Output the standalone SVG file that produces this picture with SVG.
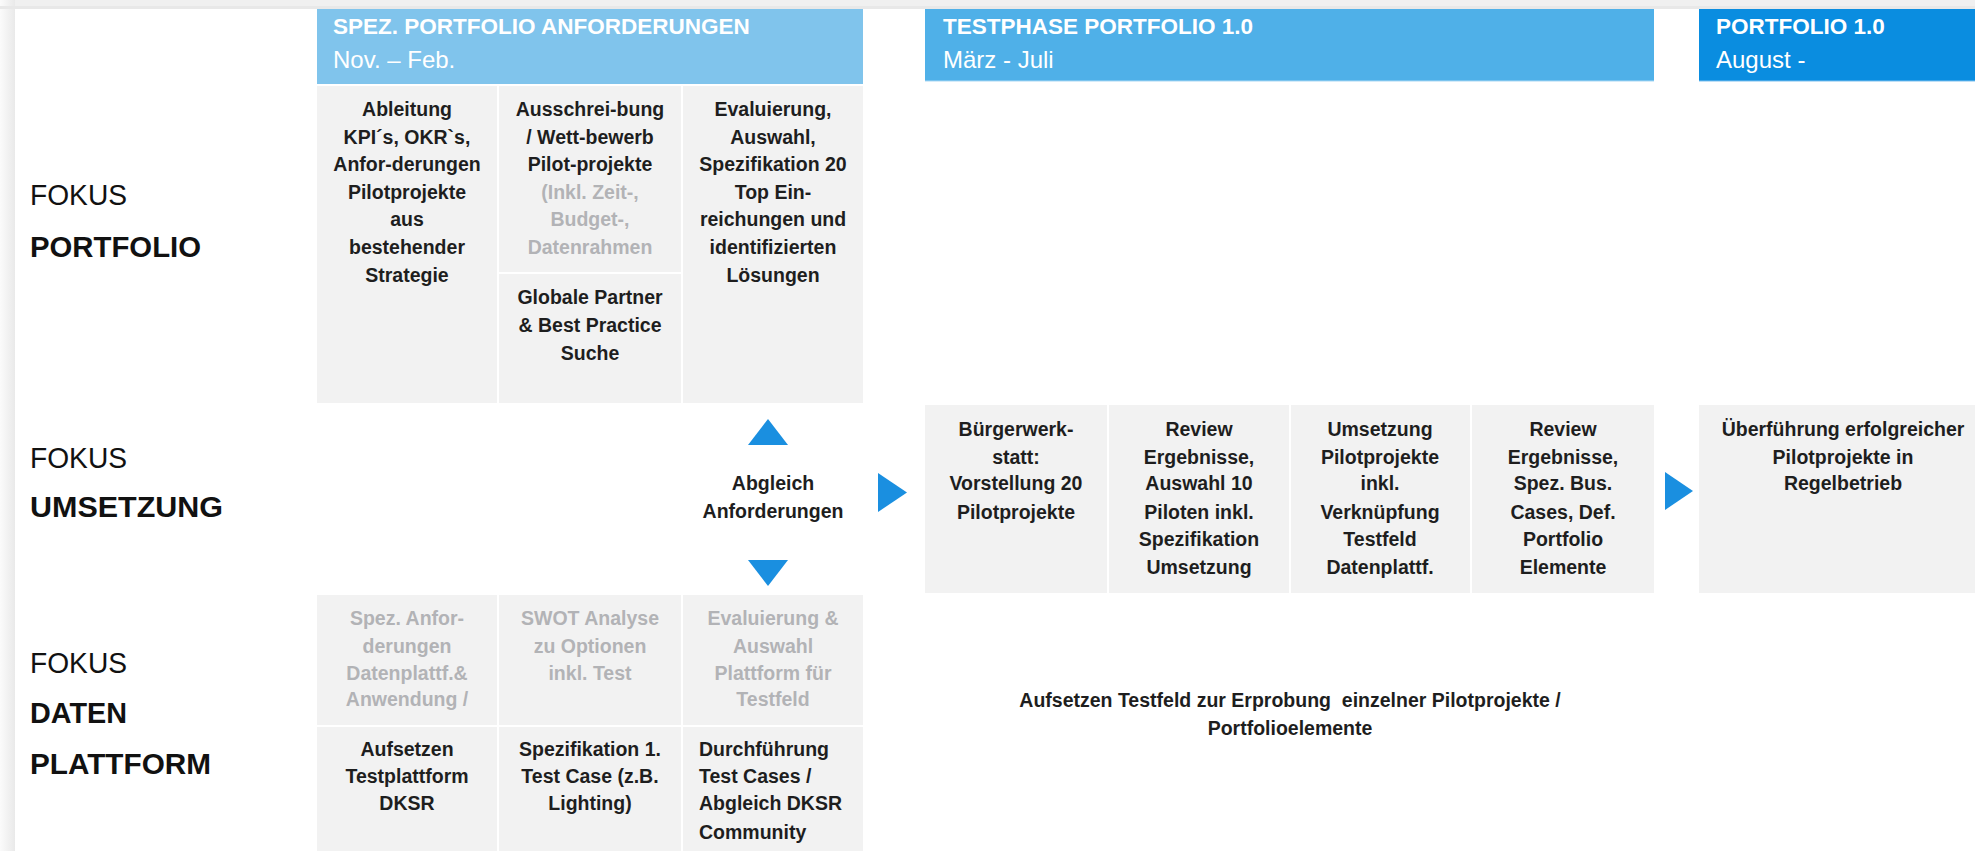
<svg xmlns="http://www.w3.org/2000/svg" width="1975" height="851" viewBox="0 0 1975 851">
<defs>
<linearGradient id="lshadow" x1="0" y1="0" x2="1" y2="0">
<stop offset="0" stop-color="#fbfbfb"/>
<stop offset="1" stop-color="#e9e9e9"/>
</linearGradient>
<style>
.cell{fill:#f2f2f2}
.t{font-family:"Liberation Sans",Arial,sans-serif;font-size:19.5px;font-weight:700;fill:#1e1e1e;text-anchor:middle}
.g{fill:#b2b3b6}
.l{text-anchor:start}
.lab{font-family:"Liberation Sans",Arial,sans-serif;font-size:29px;fill:#111}
.b{font-weight:700}
.ht{font-family:"Liberation Sans",Arial,sans-serif;font-size:22.5px;font-weight:700;fill:#fff}
.hs{font-family:"Liberation Sans",Arial,sans-serif;font-size:24px;fill:#fff}
.arr{fill:#1a8fe0}
</style>
</defs>
<rect x="0" y="0" width="1975" height="851" fill="#f0f0f0"/>
<rect x="0" y="0" width="15" height="851" fill="url(#lshadow)"/>
<rect x="0" y="6" width="1975" height="3" fill="#e8e8e8"/>
<rect x="15" y="9" width="1960" height="842" fill="#ffffff"/>

<g id="labels">
<text class="lab" x="30" y="205" textLength="97" lengthAdjust="spacingAndGlyphs">FOKUS</text>
<text class="lab b" x="30" y="257" textLength="171" lengthAdjust="spacingAndGlyphs">PORTFOLIO</text>
<text class="lab" x="30" y="468" textLength="97" lengthAdjust="spacingAndGlyphs">FOKUS</text>
<text class="lab b" x="30" y="517" textLength="193" lengthAdjust="spacingAndGlyphs">UMSETZUNG</text>
<text class="lab" x="30" y="673" textLength="97" lengthAdjust="spacingAndGlyphs">FOKUS</text>
<text class="lab b" x="30" y="723" textLength="97" lengthAdjust="spacingAndGlyphs">DATEN</text>
<text class="lab b" x="30" y="774" textLength="181" lengthAdjust="spacingAndGlyphs">PLATTFORM</text>
</g>

<g id="header1">
<rect x="317" y="9" width="546" height="75" fill="#80c4ec"/>
<text class="ht" x="333" y="34">SPEZ. PORTFOLIO ANFORDERUNGEN</text>
<text class="hs" x="333" y="68">Nov. – Feb.</text>
</g>
<g id="header2">
<rect x="925" y="9" width="729" height="72" fill="#4fb0e8"/>
<rect x="925" y="80.5" width="729" height="1" fill="#a9d8f4"/>
<text class="ht" x="943" y="34">TESTPHASE PORTFOLIO 1.0</text>
<text class="hs" x="943" y="68">März - Juli</text>
</g>
<g id="header3">
<rect x="1699" y="9" width="276" height="72" fill="#0a8de0"/>
<rect x="1699" y="80.5" width="276" height="1" fill="#7cc0ee"/>
<text class="ht" x="1716" y="34">PORTFOLIO 1.0</text>
<text class="hs" x="1716" y="68">August -</text>
</g>

<g id="p1">
<rect class="cell" x="317" y="86" width="180" height="317"/>
<text class="t" x="407" y="116">Ableitung</text>
<text class="t" x="407" y="144">KPI´s, OKR`s,</text>
<text class="t" x="407" y="171">Anfor-derungen</text>
<text class="t" x="407" y="199">Pilotprojekte</text>
<text class="t" x="407" y="226">aus</text>
<text class="t" x="407" y="254">bestehender</text>
<text class="t" x="407" y="282">Strategie</text>
</g>
<g id="p2">
<rect class="cell" x="499" y="86" width="182" height="186"/>
<text class="t" x="590" y="116">Ausschrei-bung</text>
<text class="t" x="590" y="144">/ Wett-bewerb</text>
<text class="t" x="590" y="171">Pilot-projekte</text>
<text class="t g" x="590" y="199">(Inkl. Zeit-,</text>
<text class="t g" x="590" y="226">Budget-,</text>
<text class="t g" x="590" y="254">Datenrahmen</text>
</g>
<g id="p2b">
<rect class="cell" x="499" y="274" width="182" height="129"/>
<text class="t" x="590" y="304">Globale Partner</text>
<text class="t" x="590" y="332">&amp; Best Practice</text>
<text class="t" x="590" y="360">Suche</text>
</g>
<g id="p3">
<rect class="cell" x="683" y="86" width="180" height="317"/>
<text class="t" x="773" y="116">Evaluierung,</text>
<text class="t" x="773" y="144">Auswahl,</text>
<text class="t" x="773" y="171">Spezifikation 20</text>
<text class="t" x="773" y="199">Top Ein-</text>
<text class="t" x="773" y="226">reichungen und</text>
<text class="t" x="773" y="254">identifizierten</text>
<text class="t" x="773" y="282">Lösungen</text>
</g>

<g id="abgleich">
<text class="t" x="773" y="490">Abgleich</text>
<text class="t" x="773" y="518">Anforderungen</text>
</g>

<g id="u1">
<rect class="cell" x="925" y="405" width="182" height="188"/>
<text class="t" x="1016" y="436">Bürgerwerk-</text>
<text class="t" x="1016" y="464">statt:</text>
<text class="t" x="1016" y="490">Vorstellung 20</text>
<text class="t" x="1016" y="519">Pilotprojekte</text>
</g>
<g id="u2">
<rect class="cell" x="1109" y="405" width="180" height="188"/>
<text class="t" x="1199" y="436">Review</text>
<text class="t" x="1199" y="464">Ergebnisse,</text>
<text class="t" x="1199" y="490">Auswahl 10</text>
<text class="t" x="1199" y="519">Piloten inkl.</text>
<text class="t" x="1199" y="546">Spezifikation</text>
<text class="t" x="1199" y="574">Umsetzung</text>
</g>
<g id="u3">
<rect class="cell" x="1291" y="405" width="179" height="188"/>
<text class="t" x="1380" y="436">Umsetzung</text>
<text class="t" x="1380" y="464">Pilotprojekte</text>
<text class="t" x="1380" y="490">inkl.</text>
<text class="t" x="1380" y="519">Verknüpfung</text>
<text class="t" x="1380" y="546">Testfeld</text>
<text class="t" x="1380" y="574">Datenplattf.</text>
</g>
<g id="u4">
<rect class="cell" x="1472" y="405" width="182" height="188"/>
<text class="t" x="1563" y="436">Review</text>
<text class="t" x="1563" y="464">Ergebnisse,</text>
<text class="t" x="1563" y="490">Spez. Bus.</text>
<text class="t" x="1563" y="519">Cases, Def.</text>
<text class="t" x="1563" y="546">Portfolio</text>
<text class="t" x="1563" y="574">Elemente</text>
</g>
<g id="u5">
<rect class="cell" x="1699" y="405" width="276" height="188"/>
<text class="t" x="1843" y="436">Überführung erfolgreicher</text>
<text class="t" x="1843" y="464">Pilotprojekte in</text>
<text class="t" x="1843" y="490">Regelbetrieb</text>
</g>

<g id="d1">
<rect class="cell" x="317" y="595" width="180" height="130"/>
<text class="t g" x="407" y="625">Spez. Anfor-</text>
<text class="t g" x="407" y="653">derungen</text>
<text class="t g" x="407" y="680">Datenplattf.&amp;</text>
<text class="t g" x="407" y="706">Anwendung /</text>
</g>
<g id="d2">
<rect class="cell" x="499" y="595" width="182" height="130"/>
<text class="t g" x="590" y="625">SWOT Analyse</text>
<text class="t g" x="590" y="653">zu Optionen</text>
<text class="t g" x="590" y="680">inkl. Test</text>
</g>
<g id="d3">
<rect class="cell" x="683" y="595" width="180" height="130"/>
<text class="t g" x="773" y="625">Evaluierung &amp;</text>
<text class="t g" x="773" y="653">Auswahl</text>
<text class="t g" x="773" y="680">Plattform für</text>
<text class="t g" x="773" y="706">Testfeld</text>
</g>
<g id="d4">
<rect class="cell" x="317" y="727" width="180" height="124"/>
<text class="t" x="407" y="756">Aufsetzen</text>
<text class="t" x="407" y="783">Testplattform</text>
<text class="t" x="407" y="810">DKSR</text>
</g>
<g id="d5">
<rect class="cell" x="499" y="727" width="182" height="124"/>
<text class="t" x="590" y="756">Spezifikation 1.</text>
<text class="t" x="590" y="783">Test Case (z.B.</text>
<text class="t" x="590" y="810">Lighting)</text>
</g>
<g id="d6">
<rect class="cell" x="683" y="727" width="180" height="124"/>
<text class="t l" x="699" y="756">Durchführung</text>
<text class="t l" x="699" y="783">Test Cases /</text>
<text class="t l" x="699" y="810">Abgleich DKSR</text>
<text class="t l" x="699" y="839">Community</text>
</g>

<g id="testfeld">
<text class="t" x="1290" y="707" xml:space="preserve">Aufsetzen Testfeld zur Erprobung  einzelner Pilotprojekte /</text>
<text class="t" x="1290" y="735">Portfolioelemente</text>
</g>

<g id="connectors">
<polygon class="arr" points="768,419 788,445 748,445"/>
<polygon class="arr" points="748,560 788,560 768,586"/>
<polygon class="arr" points="878,473 907,492.5 878,512"/>
<polygon class="arr" points="1665,472 1693,491 1665,510"/>
</g>
</svg>
